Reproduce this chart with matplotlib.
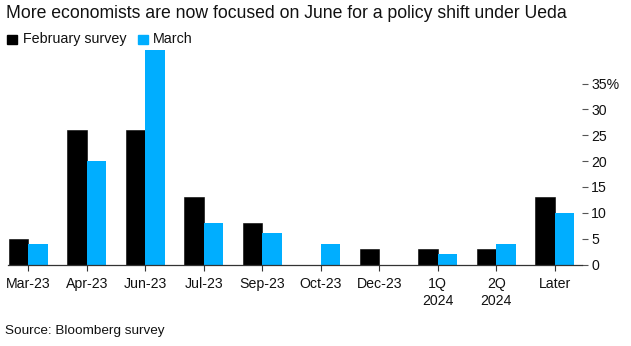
import matplotlib
matplotlib.use("Agg")
import matplotlib.pyplot as plt
import numpy as np

categories = ["Mar-23", "Apr-23", "Jun-23", "Jul-23", "Sep-23", "Oct-23",
              "Dec-23", "1Q\n2024", "2Q\n2024", "Later"]
february = [5, 26, 26, 13, 8, 0, 3, 3, 3, 13]
march = [4, 20, 42, 8, 6, 4, 0, 2, 4, 10]
yticks = [0, 5, 10, 15, 20, 25, 30, 35]
yticklabels = ["0", "5", "10", "15", "20", "25", "30", "35%"]

BLACK = "#000000"
BLUE = "#00AEFF"
FONT = "Liberation Sans"

fig = plt.figure(figsize=(6.31, 3.46), dpi=100)
ax = fig.add_axes([8/631, (346-264.5)/346, (582-8)/631, (264.5-50)/346])

x = np.arange(len(categories))
w = 0.333
ax.bar(x - w/2, february, width=w, color=BLACK, edgecolor=BLACK, linewidth=0.4)
ax.bar(x + w/2, march, width=w, color=BLUE, linewidth=0)

ax.set_xlim(-0.347, 9.465)
ax.set_ylim(0, 41.5)

for s in ["top", "left", "right"]:
    ax.spines[s].set_visible(False)
ax.spines["bottom"].set_color("#333333")
ax.spines["bottom"].set_linewidth(0.9)

ax.set_xticks(x)
ax.set_xticklabels(categories, fontfamily=FONT, fontsize=10.2, color="#111111", linespacing=1.25)
ax.tick_params(axis="x", direction="out", length=4, width=0.8, color="#333333", pad=5)

ax.yaxis.tick_right()
ax.set_yticks(yticks)
ax.set_yticklabels(yticklabels, fontfamily=FONT, fontsize=10.2, color="#111111")
ax.tick_params(axis="y", direction="out", length=4.2, width=0.8, color="#555555", pad=2.5)

fig.text(6/631, 1 - 13/346, "More economists are now focused on June for a policy shift under Ueda",
         fontfamily=FONT, fontsize=12.7, color="#111111", va="center", ha="left")

# legend
fig.patches.append(matplotlib.patches.Rectangle((7.3/631, 1 - 43.7/346), 10/631, 9/346,
                   transform=fig.transFigure, color=BLACK))
fig.text(22.7/631, 1 - 39/346, "February survey", fontfamily=FONT, fontsize=10.3,
         color="#111111", va="center", ha="left")
fig.patches.append(matplotlib.patches.Rectangle((137.7/631, 1 - 43.7/346), 10/631, 9/346,
                   transform=fig.transFigure, color=BLUE))
fig.text(153/631, 1 - 39/346, "March", fontfamily=FONT, fontsize=10.3,
         color="#111111", va="center", ha="left")

fig.text(5/631, 1 - 331/346, "Source: Bloomberg survey", fontfamily=FONT, fontsize=9.7,
         color="#111111", va="center", ha="left")

fig.savefig("out.png", dpi=100)
